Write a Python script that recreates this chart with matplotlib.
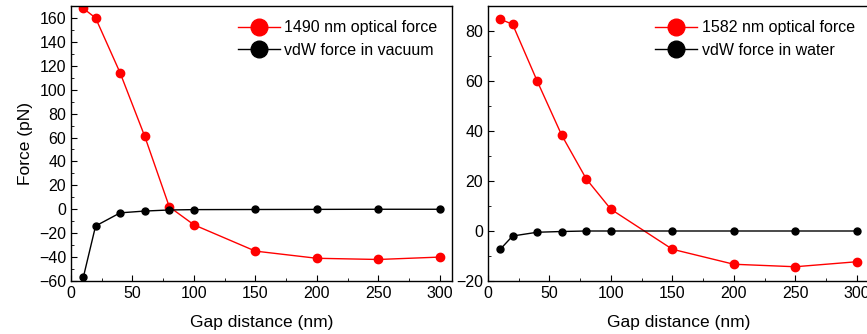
import numpy as np
import matplotlib
matplotlib.use("Agg")
import matplotlib.pyplot as plt
from matplotlib.ticker import MultipleLocator

plt.rcParams["font.family"] = ["Liberation Sans", "DejaVu Sans"]

# 데이터
gap = [10, 20, 40, 60, 80, 100, 150, 200, 250, 300]

opt_1490 = [168, 160, 114, 61, 2, -13, -35, -41, -42, -40]
vdw_vac = [-57, -14, -3, -1.5, -0.6, -0.3, -0.2, -0.1, 0, 0]

opt_1582 = [84.7, 82.7, 60, 38.3, 20.8, 8.7, -7.3, -13.3, -14.3, -12.3]
vdw_water = [-7.3, -2.0, -0.5, -0.2, 0, 0, 0, 0, 0, 0]

W, H = 867, 334
fig = plt.figure(figsize=(W / 100, H / 100), dpi=100)
ax1 = fig.add_axes([71 / W, 53 / H, 381 / W, 275 / H])
ax2 = fig.add_axes([488 / W, 53 / H, 381 / W, 275 / H])


def style(ax, ylim, ymaj, ymin):
    ax.set_xlim(0, 310)
    ax.set_ylim(*ylim)
    ax.xaxis.set_major_locator(MultipleLocator(50))
    ax.xaxis.set_minor_locator(MultipleLocator(25))
    ax.yaxis.set_major_locator(MultipleLocator(ymaj))
    ax.yaxis.set_minor_locator(MultipleLocator(ymin))
    ax.tick_params(which="both", direction="in", labelsize=11.5)
    ax.tick_params(which="major", length=4)
    ax.tick_params(which="minor", length=2.5)
    ax.set_xlabel("Gap distance (nm)", fontsize=12.5, labelpad=10)
    for s in ax.spines.values():
        s.set_linewidth(1.0)


ax1.plot(gap, opt_1490, "-o", color="red", lw=1.0, ms=6,
         label="1490 nm optical force")
ax1.plot(gap, vdw_vac, "-o", color="black", lw=1.0, ms=5,
         label="vdW force in vacuum")
style(ax1, (-60, 170), 20, 10)
ax1.set_ylabel("Force (pN)", fontsize=12.5)

ax2.plot(gap, opt_1582, "-o", color="red", lw=1.0, ms=6,
         label="1582 nm optical force")
ax2.plot(gap, vdw_water, "-o", color="black", lw=1.0, ms=5,
         label="vdW force in water")
style(ax2, (-20, 90), 20, 10)

for ax in (ax1, ax2):
    leg = ax.legend(loc="upper right", frameon=False, fontsize=11.5,
                    handlelength=2.6, handletextpad=0.3,
                    labelspacing=0.45, bbox_to_anchor=(1.0, 1.0))
    for h in leg.legend_handles:
        h.set_markersize(12)

fig.savefig("out.png", dpi=100)
